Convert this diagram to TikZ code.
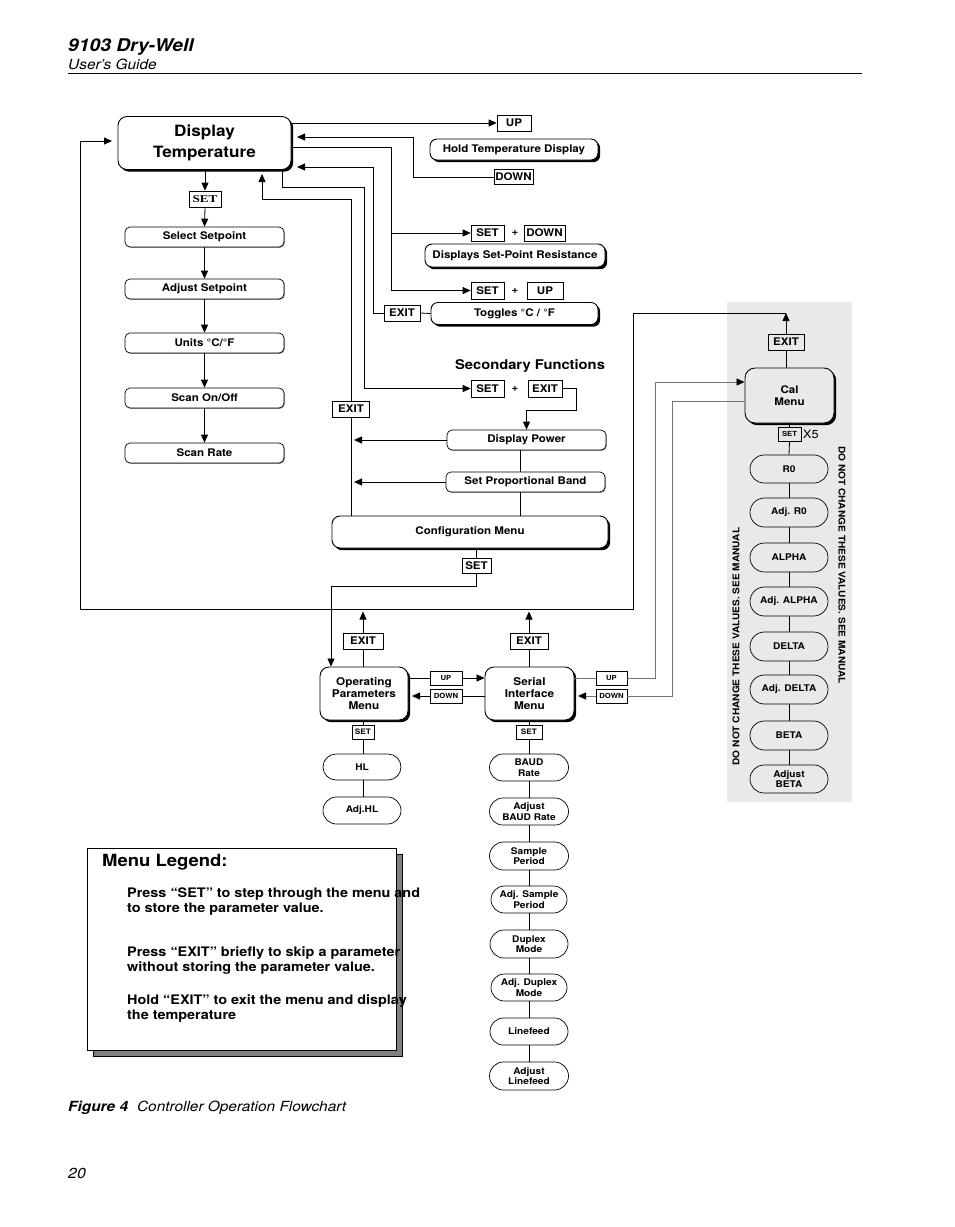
\documentclass[tikz,border=0pt]{standalone}
\usepackage{fontspec}
\setmainfont{TeX Gyre Heros}[FakeStretch=1.1]
\newfontfamily\serifb{Liberation Serif}[FakeStretch=1.25]
\usetikzlibrary{shapes.misc,shadows,arrows.meta,calc}
\definecolor{panel}{RGB}{233,233,233}
\newcommand\fs[2]{\fontsize{#1}{#2}\selectfont}
\tikzset{
  base/.style={inner sep=0pt, align=center, font=\bfseries\fs{10.5}{12}},
  key/.style={base, draw, fill=white, line width=0.7pt, minimum height=16pt},
  smallkey/.style={key, minimum height=14pt, font=\bfseries\fs{7}{7}},
  rbox/.style={base, draw, fill=white, line width=0.7pt, rounded corners=5pt, minimum width=159pt, minimum height=20pt,
    drop shadow={shadow xshift=0.9pt, shadow yshift=-0.9pt, fill=black!40, opacity=1}},
  hbox/.style={base, draw, fill=white, line width=0.9pt, rounded corners=7pt,
    drop shadow={shadow xshift=2.2pt, shadow yshift=-2.2pt, fill=black, opacity=1}},
  menubox/.style={hbox, rounded corners=9pt, minimum width=88pt, minimum height=53pt, font=\bfseries\fs{10.7}{12}},
  pill/.style={base, draw, line width=0.7pt, rounded rectangle, minimum width=78pt, minimum height=27pt, font=\bfseries\fs{9.2}{10.5}},
  conn/.style={line width=0.8pt},
  arr/.style={conn, -{Triangle[length=8pt,width=7pt]}},
  gline/.style={conn, draw=black!55},
  garr/.style={gline, -{Triangle[length=8pt,width=7pt,color=black]}},
  plain/.style={inner sep=0pt, align=left},
}
\begin{document}
\begin{tikzpicture}[x=1pt,y=-1pt]
\useasboundingbox (0,0) rectangle (954,1227);
\fill[white] (0,0) rectangle (954,1227);

% header
\node[plain, anchor=west, font=\bfseries\itshape\fs{17.5}{17.5}] (title) at (68,47) {9103 Dry-Well};
\node[plain, anchor=west, font=\itshape\fs{14}{14}] (guide) at (68,64.5) {User’s Guide};
\draw[line width=0.9pt] (68,73) coordinate (rl) -- (862,73) coordinate (rr);

% calibration panel
\fill[panel] (727,302) rectangle (852,802);

% main left column
\node[hbox, rounded corners=9pt, minimum width=173pt, minimum height=53pt, font=\bfseries\fs{15.6}{21}] (dt) at (204.5,143) {Display\\Temperature};
\node[key, minimum width=32pt, font=\serifb\bfseries\fs{10.5}{10.5}] (set1) at (205,199) {SET};
\node[rbox] (ss) at (204.5,237) {Select Setpoint};
\node[rbox] (as) at (204.5,289) {Adjust Setpoint};
\node[rbox] (un) at (204.5,343) {Units °C/°F};
\node[rbox] (so) at (204.5,398) {Scan On/Off};
\node[rbox] (sr) at (204.5,453) {Scan Rate};

% top right
\node[key, minimum width=34pt] (up1) at (514,123) {UP};
\node[hbox, minimum width=168pt, minimum height=21pt] (htd) at (514,149.5) {Hold Temperature Display};
\node[key, minimum width=39pt, minimum height=15pt] (down1) at (513.5,177) {DOWN};
\node[key, minimum width=33pt] (setA) at (487.5,233) {SET};
\node[base] (plusA) at (515,233) {+};
\node[key, minimum width=41pt] (downA) at (544.5,233) {DOWN};
\node[hbox, minimum width=180pt, minimum height=23pt] (dspr) at (515,255.5) {Displays Set-Point Resistance};
\node[key, minimum width=33pt, minimum height=17pt] (setB) at (487.5,290.5) {SET};
\node[base] (plusB) at (515,291) {+};
\node[key, minimum width=36pt, minimum height=17pt] (upB) at (545,290.5) {UP};
\node[key, minimum width=36pt] (exitT) at (402,313) {EXIT};
\node[hbox, minimum width=167pt, minimum height=22pt] (tog) at (514.5,313.5) {Toggles °C / °F};

% secondary functions
\node[base, font=\bfseries\fs{13.4}{15}] (sec) at (530,365.5) {Secondary Functions};
\node[key, minimum width=33pt, minimum height=17pt] (setC) at (487.5,388.5) {SET};
\node[base] (plusC) at (515,389) {+};
\node[key, minimum width=34pt, minimum height=17pt] (exitC) at (545,388.5) {EXIT};
\node[key, minimum width=37pt] (exitL) at (351,409) {EXIT};
\node[rbox] (dp) at (526.5,440) {Display Power};
\node[rbox] (spb) at (525.5,482) {Set Proportional Band};
\node[hbox, rounded corners=8pt, minimum width=276pt, minimum height=32pt] (cfg) at (470,532) {Configuration Menu};
\node[key, minimum width=29pt, minimum height=15pt] (setD) at (476.5,566) {SET};

% operating parameters / serial interface
\node[key, minimum width=40pt] (exitO) at (363,641) {EXIT};
\node[menubox] (op) at (364,693.5) {Operating\\Parameters\\Menu};
\node[smallkey, minimum width=32pt] (upO) at (446,678) {UP};
\node[smallkey, minimum width=32pt] (downO) at (446,696) {DOWN};
\node[key, minimum width=38pt] (exitS) at (529,641) {EXIT};
\node[menubox, minimum width=89pt] (si) at (529.5,693.5) {Serial\\Interface\\Menu};
\node[smallkey, minimum width=31pt] (upS) at (611.5,678) {UP};
\node[smallkey, minimum width=31pt] (downS) at (611.5,696) {DOWN};
\node[smallkey, minimum width=22pt, font=\bfseries\fs{7.5}{7.5}] (setO) at (363,732) {SET};
\node[pill, minimum height=26pt] (hl) at (362,767) {HL};
\node[pill] (ahl) at (362,810.5) {Adj.HL};
\node[smallkey, minimum width=26pt, font=\bfseries\fs{7.5}{7.5}] (setS) at (529,732) {SET};
\node[pill, minimum width=79pt] (baud) at (529,767.5) {BAUD\\Rate};
\node[pill, minimum width=79pt] (abaud) at (529,811.5) {Adjust\\BAUD Rate};
\node[pill, minimum width=79pt, minimum height=28pt] (samp) at (529,856) {Sample\\Period};
\node[pill, minimum width=76pt] (asamp) at (529,899.5) {Adj. Sample\\Period};
\node[pill, minimum height=28pt] (dup) at (529,944) {Duplex\\Mode};
\node[pill, minimum width=76pt] (adup) at (529,987.5) {Adj. Duplex\\Mode};
\node[pill] (lf) at (529,1031.5) {Linefeed};
\node[pill, minimum width=79pt, minimum height=28pt] (alf) at (529,1076) {Adjust\\Linefeed};

% calibration menu
\node[key, fill=panel, minimum width=36pt] (exitCal) at (786,342) {EXIT};
\node[hbox, fill=panel, rounded corners=10pt, minimum width=89pt, minimum height=55pt] (cal) at (789.5,395.5) {Cal\\Menu};
\node[smallkey, fill=panel, minimum width=23pt] (setCal) at (789.5,434) {SET};
\node[plain, anchor=west, font=\fs{11.5}{11.5}] (x5) at (803,434) {X5};
\node[pill, minimum height=28pt] (r0) at (789,469) {R0};
\node[pill, minimum height=29pt] (ar0) at (789,512.5) {Adj. R0};
\node[pill, minimum height=29pt] (alpha) at (789,557.5) {ALPHA};
\node[pill, minimum height=29pt] (aalpha) at (789,601.5) {Adj. ALPHA};
\node[pill, minimum height=29pt] (delta) at (789,646.5) {DELTA};
\node[pill, minimum height=29pt] (adelta) at (789,689.5) {Adj. DELTA};
\node[pill, minimum height=29pt] (beta) at (789,735.5) {BETA};
\node[pill, minimum height=28pt] (abeta) at (789,779) {Adjust\\BETA};
\node[base, rotate=90, font=\bfseries\fs{9.2}{9.2}] (warnL) at (736,646.5) {DO NOT CHANGE THESE VALUES. SEE MANUAL};
\node[base, rotate=-90, font=\bfseries\fs{9.2}{9.2}] (warnR) at (842,565) {DO NOT CHANGE THESE VALUES. SEE MANUAL};

% legend
\node[draw, fill=white, line width=0.8pt, minimum width=309pt, minimum height=202pt, inner sep=0pt,
  drop shadow={shadow xshift=6.5pt, shadow yshift=-6.5pt, fill=black!50, draw=black, opacity=1}] (leg) at (241.5,949) {};
\node[plain, anchor=west, font=\bfseries\fs{16.8}{18}] (legT) at (102,862.5) {Menu Legend:};
\node[plain, anchor=west, font=\bfseries\fs{13.1}{15}] (leg1) at (127,902) {Press “SET” to step through the menu and\\to store the parameter value.};
\node[plain, anchor=west, font=\bfseries\fs{13.1}{15}] (leg2) at (127,961) {Press “EXIT” briefly to skip a parameter\\without storing the parameter value.};
\node[plain, anchor=west, font=\bfseries\fs{13.1}{15}] (leg3) at (127,1008.5) {Hold “EXIT” to exit the menu and display\\the temperature};

% caption and page number
\node[plain, anchor=west, font=\fs{14}{14}] (cap) at (68,1108) {{\bfseries\itshape Figure 4}\hspace{9pt}{\itshape Controller Operation Flowchart}};
\node[plain, anchor=west, font=\itshape\fs{14.5}{14.5}] (pg) at (68,1173) {20};

% ---- connectors ----
% left column
\draw[arr] (set1.north |- dt.south) -- (set1.north);
\draw[arr] (set1.south) -- (ss.north);
\draw[arr] (ss.south) -- (as.north);
\draw[arr] (as.south) -- (un.north);
\draw[arr] (un.south) -- (so.north);
\draw[arr] (so.south) -- (sr.north);

% top right
\draw[arr] (dt.east |- up1.west) -- (up1.west);
\draw[arr] (down1.west) -| (413,137) -- (297,137);
\draw[arr] (dt.east |- 0,147) -| (391,290.5) -- (setB.west);
\draw[arr] (391,233) -- (setA.west);
\draw[arr] (exitT.west) -| (373,167) -- (297,167);
\draw[conn] (exitT.east) -- (tog.west);

% secondary
\draw[arr] (282,0 |- dt.south) -- (282,187) -| (364,388.5) -- (setC.west);
\draw[conn] (351,0 |- cfg.north) -- (exitL.south);
\draw[arr] (exitL.north) |- (262,199) -- (262,174);
\draw[arr] (dp.west) -- (354,0 |- dp.west);
\draw[arr] (spb.west) -- (354,0 |- spb.west);
\draw[conn] (520,0 |- dp.south) -- (520,0 |- spb.north);
\draw[conn] (520,0 |- spb.south) -- (520,0 |- cfg.north);
\draw[arr] (exitC.east) -| (576,410) -| (dp.north);
\draw[conn] (setD.north |- cfg.south) -- (setD.north);
\draw[arr] (setD.south) |- (331,586) -- (331,0 |- op.north);

% big loop
\draw[conn] (exitCal.south |- cal.north) -- (exitCal.south);
\draw[arr] (exitCal.north) -- (786,313);
\draw[arr] (786,313) -| (633,609) -| (80,141) -- (112,141);
\draw[conn] (exitO.south |- op.north) -- (exitO.south);
\draw[arr] (exitO.north) -- (363,611.5);
\draw[conn] (exitS.south |- si.north) -- (exitS.south);
\draw[arr] (exitS.north) -- (529,611.5);

% op / serial / cal links
\draw[conn] (op.east |- upO.west) -- (upO.west);
\draw[arr] (upO.east) -- (si.west |- upO.east);
\draw[conn] (si.west |- downO.east) -- (downO.east);
\draw[arr] (downO.west) -- (412,0 |- downO.west);
\draw[gline] (si.east |- upS.west) -- (upS.west);
\draw[garr] (upS.east) -| (655,382) -- (cal.west |- 0,382);
\draw[gline] (cal.west |- 0,401) -| (672,696) -- (downS.east);
\draw[garr] (downS.west) -- (578,0 |- downS.west);

% op column
\draw[conn] (setO.north |- op.south) -- (setO.north);
\draw[conn] (setO.south) -- (363,0 |- hl.north);
\draw[conn] (363,0 |- hl.south) -- (363,0 |- ahl.north);
% serial column
\draw[conn] (setS.north |- si.south) -- (setS.north);
\draw[conn] (setS.south) -- (baud.north);
\draw[conn] (baud.south) -- (abaud.north);
\draw[conn] (abaud.south) -- (samp.north);
\draw[conn] (samp.south) -- (asamp.north);
\draw[conn] (asamp.south) -- (dup.north);
\draw[conn] (dup.south) -- (adup.north);
\draw[conn] (adup.south) -- (lf.north);
\draw[conn] (lf.south) -- (alf.north);
% cal column
\draw[conn] (setCal.north |- cal.south) -- (setCal.north);
\draw[conn] (setCal.south) -- (r0.north);
\draw[conn] (r0.south) -- (ar0.north);
\draw[conn] (ar0.south) -- (alpha.north);
\draw[conn] (alpha.south) -- (aalpha.north);
\draw[conn] (aalpha.south) -- (delta.north);
\draw[conn] (delta.south) -- (adelta.north);
\draw[conn] (adelta.south) -- (beta.north);
\draw[conn] (beta.south) -- (abeta.north);
\end{tikzpicture}
\end{document}
